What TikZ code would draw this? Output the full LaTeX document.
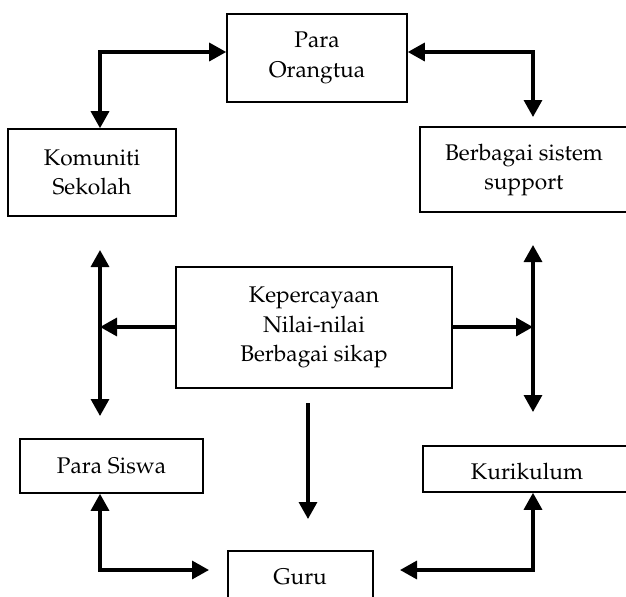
\documentclass[tikz,border=0pt]{standalone}
\usepackage[T1]{fontenc}
\usepackage{mathpazo}
\usetikzlibrary{arrows.meta}
\newcommand\pxu{0.75pt}
\tikzset{
  box/.style={draw, line width=1.2pt, inner sep=0pt, align=center},
  txt/.style={inner sep=0pt, align=center},
  tip/.style={Triangle[length=12.75pt,width=13.5pt]},
  arr/.style={line width=2.5pt, -{Triangle[length=12.75pt,width=13.5pt]}},
  darr/.style={line width=2.5pt, {Triangle[length=12.75pt,width=13.5pt]}-{Triangle[length=12.75pt,width=13.5pt]}},
}
\begin{document}
\begin{tikzpicture}[x=0.75pt, y=-0.75pt, font=\fontsize{17}{22}\selectfont]
\useasboundingbox (0,0) rectangle (626,597);
\clip (0,0) rectangle (626,597);
% boxes
\node[box, minimum width=180*\pxu, minimum height=88*\pxu] (para) at (317,58) {Para\\Orangtua};
\node[box, minimum width=168*\pxu, minimum height=87*\pxu] (kom) at (92,172.5) {Komuniti\\Sekolah};
\node[box, anchor=west, minimum width=221*\pxu, minimum height=85*\pxu] (sup) at (419,169.5) {};
\node[txt] (suptxt) at (524,170) {Berbagai sistem\\support};
\node[box, minimum width=276*\pxu, minimum height=121*\pxu] (kep) at (314,327.5) {Kepercayaan\\Nilai-nilai\\Berbagai sikap};
\node[box, minimum width=183*\pxu, minimum height=54*\pxu] (siswa) at (111.5,466) {Para Siswa};
\node[box, anchor=west, minimum width=220*\pxu, minimum height=46*\pxu] (kur) at (422,469) {};
\node[txt] (kurtxt) at (527,471) {Kurikulum};
\node[box, anchor=north, minimum width=145*\pxu, minimum height=70*\pxu] (guru) at (300.5,550) {};
\node[txt] (gurutxt) at (300,577) {Guru};
% coordinates
\coordinate (L1) at (100,52);
\coordinate (R1) at (533,52);
\coordinate (R1b) at (533,117);
\coordinate (LVa) at (100,250);
\coordinate (LVb) at (100,416);
\coordinate (RVa) at (533,245);
\coordinate (RVb) at (533,412);
\coordinate (KL) at (100,327);
\coordinate (KR) at (533,327);
\coordinate (Ca) at (308,403);
\coordinate (Cb) at (308,519);
\coordinate (BL) at (100,570);
\coordinate (BLe) at (209,570);
\coordinate (BR) at (533,570);
\coordinate (BRe) at (400,570);
% connectors
\draw[darr] (L1 |- kom.north) -- (L1) -- (L1 -| para.west);
\draw[darr] (R1 -| para.east) -- (R1) -- (R1b);
\draw[darr] (LVa) -- (LVb);
\draw[darr] (RVa) -- (RVb);
\draw[arr] (kep.west |- KL) -- (KL);
\draw[arr] (kep.east |- KR) -- (KR);
\draw[arr] (Ca) -- (Cb);
\draw[darr] (BL |- siswa.south) -- (BL) -- (BLe);
\draw[darr] (BR |- kur.south) -- (BR) -- (BRe);
\end{tikzpicture}
\end{document}
